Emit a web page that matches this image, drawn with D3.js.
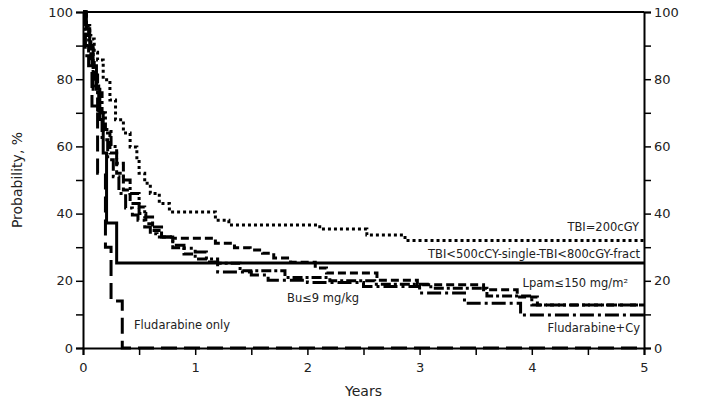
<!DOCTYPE html>
<html><head><meta charset="utf-8">
<script src="https://cdn.jsdelivr.net/npm/d3@7"></script>
<style>body{margin:0;background:#fff}svg{display:block}</style>
</head><body><svg id="c" width="701" height="408"></svg>
<script>
const xTicks = [0,1,2,3,4,5];
const yTicks = [0,20,40,60,80,100];
const seriesNames = ["TBI=200cGY","TBI<500cCY-single-TBI<800cGY-fract","Lpam≤150 mg/m²","Bu≤9 mg/kg","Fludarabine+Cy","Fludarabine only"];
const tbi200 = [[0,100],[0.03,96],[0.06,92],[0.1,88],[0.13,85.7],[0.18,79.8],[0.24,73.8],[0.29,67.9],[0.36,64],[0.42,59.8],[0.48,56],[0.5,52],[0.55,49],[0.6,46],[0.68,43],[0.77,40.5],[1.18,38],[1.3,36.6],[2.11,35.4],[2.53,33.6],[2.87,32]];
const tbi500 = [[0,100],[0.03,95],[0.06,90],[0.09,84],[0.12,77],[0.15,68],[0.18,58],[0.21,37.2],[0.30,25.3]];
const lpam = [[0,100],[0.03,93],[0.07,85],[0.1,78],[0.14,70],[0.18,64],[0.24,58],[0.3,52],[0.36,47],[0.42,43],[0.5,40],[0.56,37],[0.62,35],[0.7,33],[0.8,32.7],[1.18,31.2],[1.35,29.8],[1.49,29.2],[1.6,28.2],[1.7,26.8],[1.85,25.5],[2.07,23.8],[2.17,22.3],[2.62,20.2],[2.98,18.8],[3.57,17.3],[3.87,15.2],[4.05,12.8]];
const bu = [[0,100],[0.02,95],[0.05,89],[0.09,82],[0.13,76],[0.17,70],[0.2,65],[0.25,60],[0.3,55],[0.36,50],[0.42,46],[0.5,42],[0.55,39],[0.62,36],[0.7,33],[0.8,29.8],[0.9,28],[1.0,26.5],[1.2,25.2],[1.4,23],[1.8,21],[2.2,20],[2.6,19],[3.1,17.8],[3.6,15.5],[4.0,12.8]];
const fluCy = [[0,100],[0.02,90],[0.05,84],[0.09,77],[0.13,70],[0.17,62],[0.22,56],[0.27,51],[0.32,46],[0.38,41.7],[0.44,39.6],[0.49,38],[0.55,36],[0.6,34],[0.66,33],[0.8,30.6],[0.9,29.7],[1.0,28.6],[1.1,25.6],[1.2,22.6],[1.5,21.7],[1.65,20.2],[2.0,19.5],[2.5,18.3],[3.0,16.4],[3.4,13.3],[3.9,9.8]];
const fluOnly = [[0,100],[0.02,87],[0.08,72],[0.13,52],[0.2,30],[0.25,14],[0.35,0]];

const svg = d3.select("#c");
const L=83,R=644,T=12,B=348;
const x = d3.scaleLinear().domain([0,5]).range([L,R]);
const y = d3.scaleLinear().domain([0,100]).range([B,T]);
const font = "DejaVu Sans, Verdana, sans-serif";

const curves = [
  {d:tbi200, dash:"3,3"},
  {d:tbi500, dash:null},
  {d:lpam, dash:"8,4"},
  {d:bu, dash:"10,3,3,3"},
  {d:fluCy, dash:"14,4,3,4"},
  {d:fluOnly, dash:"16,7"}
];
const line = d3.line().x(d=>x(d[0])).y(d=>y(d[1])).curve(d3.curveStepAfter);
curves.forEach(c=>{
  const pts = c.d.concat([[5,c.d[c.d.length-1][1]]]);
  svg.append("path").attr("d",line(pts)).attr("fill","none").attr("stroke","#000")
    .attr("stroke-width",3).attr("stroke-dasharray",c.dash);
});

// axes
const gx = svg.append("g").attr("transform",`translate(0,${B})`)
  .call(d3.axisBottom(x).tickValues(d3.range(0,5.01,0.5)).tickSize(7).tickFormat(d=>Number.isInteger(d)?d:""));
const gl = svg.append("g").attr("transform",`translate(${L},0)`)
  .call(d3.axisLeft(y).tickValues(d3.range(0,101,10)).tickSize(7).tickFormat(d=>d%20===0?d:""));
const gr = svg.append("g").attr("transform",`translate(${R},0)`)
  .call(d3.axisRight(y).tickValues(d3.range(0,101,10)).tickSize(7).tickFormat(d=>d%20===0?d:""));
[gx,gl,gr].forEach(g=>{
  g.select(".domain").attr("stroke-width",2).attr("stroke","#000");
  g.selectAll(".tick line").attr("stroke-width",1.5);
  g.selectAll("text").attr("font-family",font).attr("font-size",13).attr("fill","#222");
});
gx.selectAll("text").attr("dy","1.05em");
svg.append("line").attr("x1",L).attr("x2",R).attr("y1",T).attr("y2",T).attr("stroke","#000").attr("stroke-width",2);

svg.append("text").attr("x",(L+R)/2).attr("y",396).attr("text-anchor","middle")
  .attr("font-family",font).attr("font-size",14).attr("fill","#222").text("Years");
svg.append("text").attr("transform","translate(22,180) rotate(-90)").attr("text-anchor","middle")
  .attr("font-family",font).attr("font-size",14).attr("fill","#222").text("Probability, %");

const labels = [
  {t:seriesNames[0], x:639, y:231, a:"end"},
  {t:seriesNames[1], x:640, y:258, a:"end"},
  {t:seriesNames[2], x:628, y:287, a:"end"},
  {t:seriesNames[3], x:287, y:302, a:"start"},
  {t:seriesNames[4], x:640, y:332, a:"end"},
  {t:seriesNames[5], x:134, y:329, a:"start"}
];
labels.forEach(l=>svg.append("text").attr("x",l.x).attr("y",l.y).attr("text-anchor",l.a)
  .attr("font-family",font).attr("font-size",11.5).attr("fill","#222").text(l.t));
</script></body></html>
